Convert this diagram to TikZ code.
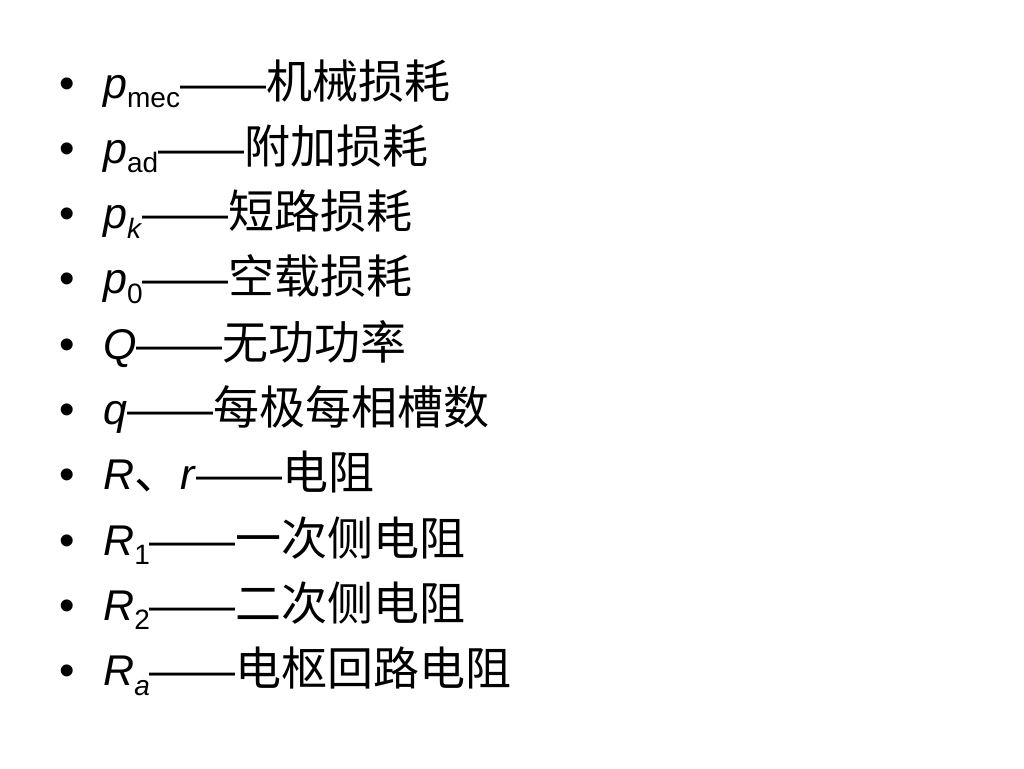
\documentclass[tikz,border=0pt]{standalone}
\usepackage{fontspec}
\setmainfont{Liberation Sans}
\newfontfamily\cjk{Noto Sans CJK SC}
\usepackage{tikz}
\usetikzlibrary{positioning}
\newcommand{\var}[1]{\textit{#1}}
\newcommand{\lowsub}[1]{\raisebox{-0.22em}{\fontsize{28}{30}\selectfont #1}}
\newcommand{\zh}[1]{{\cjk\fontsize{46}{48}\selectfont #1}}
\tikzset{
    bul/.style={anchor=base west, inner sep=0pt, font=\fontsize{44}{48}\selectfont},
    item/.style={anchor=base west, inner sep=0pt, font=\fontsize{43}{48}\selectfont}
}

\begin{document}
\begin{tikzpicture}[x=1pt, y=-1pt]
    \useasboundingbox (0,0) rectangle (1024,768);

    % Bullet list
    \foreach \i/\txt in {
        0/{\var{p}\lowsub{mec}——\zh{机械损耗}},
        1/{\var{p}\lowsub{ad}——\zh{附加损耗}},
        2/{\var{p}\lowsub{\var{k}}——\zh{短路损耗}},
        3/{\var{p}\lowsub{0}——\zh{空载损耗}},
        4/{\var{Q}——\zh{无功功率}},
        5/{\var{q}——\zh{每极每相槽数}},
        6/{\var{R}\zh{、}\var{r}——\zh{电阻}},
        7/{\var{R}\lowsub{1}——\zh{一次侧电阻}},
        8/{\var{R}\lowsub{2}——\zh{二次侧电阻}},
        9/{\var{R}\lowsub{\var{a}}——\zh{电枢回路电阻}}
    }{
        \node[bul] (bul\i) at (59, 98+65.3*\i) {•};
        \node[item] (item\i) at (103, 98+65.3*\i) {\txt};
    }
\end{tikzpicture}
\end{document}
